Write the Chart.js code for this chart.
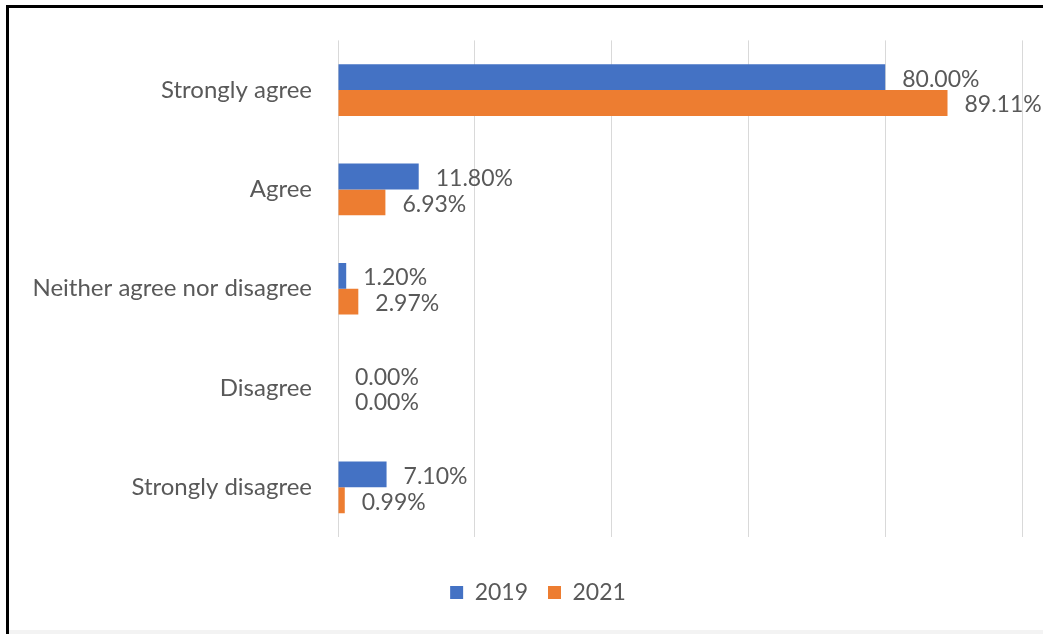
<!DOCTYPE html>
<html>
<head>
<meta charset="utf-8">
<script src="https://cdn.jsdelivr.net/npm/chart.js@4/dist/chart.umd.min.js"></script>
<style>
  html, body { margin: 0; padding: 0; background: #fff; }
  #wrap { position: relative; width: 1043px; height: 634px; overflow: hidden; }
  #frame {
    position: absolute; left: 6px; top: 5px; width: 1100px; height: 700px;
    border-left: 3px solid #000; border-top: 3px solid #000;
  }
  #foot { position: absolute; left: 9px; top: 630px; width: 1100px; height: 4px; background: #f3f3f3; }
  #chart { position: absolute; left: 0; top: 0; }
</style>
</head>
<body>
<div id="wrap">
  <div id="frame"></div>
  <div id="foot"></div>
  <canvas id="chart" width="1043" height="634"></canvas>
</div>
<script>
// survey answers, top to bottom
const categories = ['Strongly agree', 'Agree', 'Neither agree nor disagree', 'Disagree', 'Strongly disagree'];
const values2019 = [80.00, 11.80, 1.20, 0.00, 7.10];
const values2021 = [89.11, 6.93, 2.97, 0.00, 0.99];

const FONT = 'Lato, "Open Sans", sans-serif';
const TEXT = '#595959';

// percentage labels just past the end of each bar
const barValueLabels = {
  id: 'barValueLabels',
  afterDatasetsDraw(chart) {
    const ctx = chart.ctx;
    ctx.save();
    ctx.font = '23px ' + FONT;
    ctx.fillStyle = TEXT;
    ctx.textAlign = 'left';
    ctx.textBaseline = 'middle';
    chart.data.datasets.forEach((ds, i) => {
      chart.getDatasetMeta(i).data.forEach((bar, j) => {
        ctx.fillText(ds.data[j].toFixed(2) + '%', bar.x + 17, bar.y + 2);
      });
    });
    ctx.restore();
  }
};

// nudge the legend a bit right of the canvas centre
const legendShift = {
  id: 'legendShift',
  afterLayout(chart) {
    const lg = chart.legend;
    if (lg) { lg.left += 27; lg.right += 27; }
  }
};

new Chart(document.getElementById('chart'), {
  type: 'bar',
  data: {
    labels: categories,
    datasets: [
      { label: '2019', data: values2019, backgroundColor: '#4472C4' },
      { label: '2021', data: values2021, backgroundColor: '#ED7D31' }
    ]
  },
  options: {
    indexAxis: 'y',
    responsive: false,
    animation: false,
    layout: { padding: { top: 38, right: 21, bottom: 20, left: 0 } },
    datasets: { bar: { categoryPercentage: 0.52, barPercentage: 1.0 } },
    scales: {
      x: {
        min: 0,
        max: 100,
        ticks: { display: false, stepSize: 20 },
        border: { display: false },
        grid: { color: '#d9d9d9', lineWidth: 1, drawTicks: false },
        afterFit(scale) { scale.height = 24; }
      },
      y: {
        ticks: { color: TEXT, font: { family: FONT, size: 24 }, padding: 26 },
        border: { display: false },
        grid: { display: false, drawTicks: false },
        afterFit(scale) { scale.width = 338; }
      }
    },
    plugins: {
      legend: {
        position: 'bottom',
        labels: {
          color: TEXT,
          font: { family: FONT, size: 23 },
          boxWidth: 13,
          boxHeight: 13,
          padding: 20
        }
      },
      tooltip: { enabled: false }
    }
  },
  plugins: [barValueLabels, legendShift]
});
</script>
</body>
</html>
